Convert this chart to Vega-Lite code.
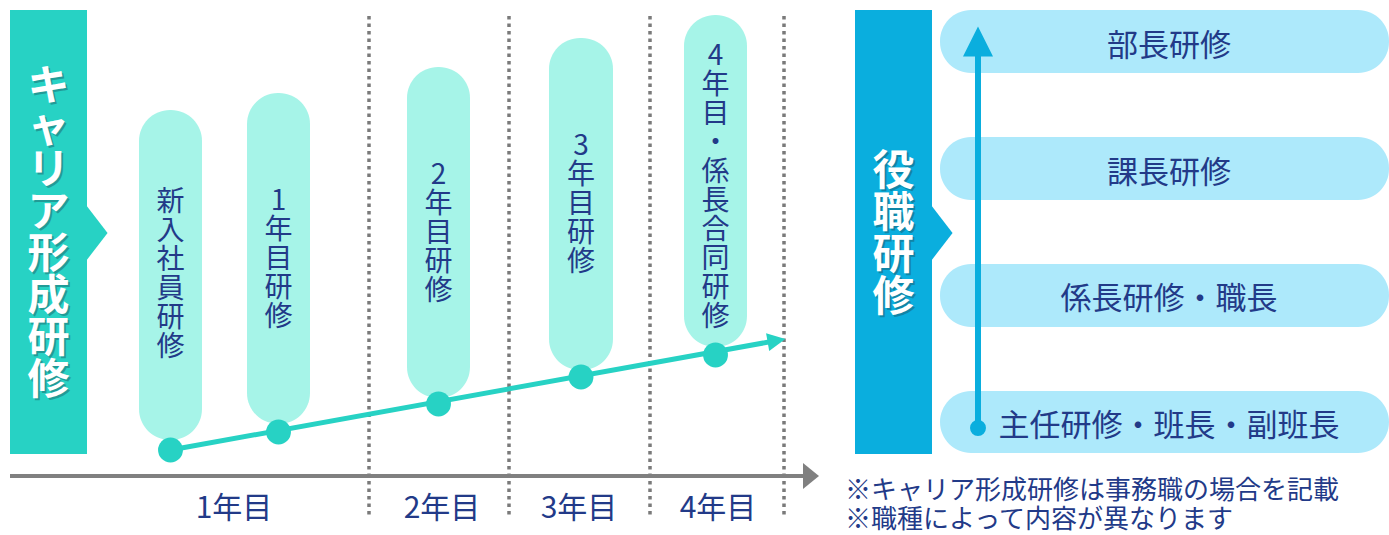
{
  "$schema": "https://vega.github.io/schema/vega-lite/v6.json",
  "width": 1389,
  "height": 535,
  "autosize": {"type": "fit", "contains": "padding"},
  "padding": 0,
  "background": "white",
  "config": {"view": {"stroke": null}, "font": "Noto Sans CJK JP"},
  "datasets": {
    "dotted": [{"x": 369, "y": 16, "y2": 515}, {"x": 509, "y": 16, "y2": 515}, {"x": 650, "y": 16, "y2": 515}, {"x": 784, "y": 16, "y2": 515}],
    "axisLine": [{"x": 10, "x2": 806, "y": 476}],
    "axisHead": [{"x": 811, "y": 476}],
    "pills": [
      {"x": 139, "x2": 202, "y": 110, "y2": 440, "cx": 170.5, "ty": 203, "dy": 450, "label": "新\n入\n社\n員\n研\n修"},
      {"x": 247, "x2": 310, "y": 93, "y2": 424, "cx": 278.5, "ty": 202, "dy": 432, "label": "1\n年\n目\n研\n修"},
      {"x": 407, "x2": 470, "y": 67, "y2": 398, "cx": 438.5, "ty": 176, "dy": 404, "label": "2\n年\n目\n研\n修"},
      {"x": 549, "x2": 613, "y": 38, "y2": 370, "cx": 581, "ty": 147, "dy": 377, "label": "3\n年\n目\n研\n修"},
      {"x": 684, "x2": 747, "y": 15, "y2": 347, "cx": 715.5, "ty": 57, "dy": 355, "label": "4\n年\n目\n・\n係\n長\n合\n同\n研\n修"}
    ],
    "tealLine": [{"x": 170.5, "y": 450}, {"x": 777, "y": 340.5}],
    "tealHead": [{"x": 776.5, "y": 340.6}],
    "banners": [
      {"x": 10, "x2": 87, "y": 10, "y2": 454, "c": "career"},
      {"x": 855, "x2": 932, "y": 10, "y2": 454, "c": "post"}
    ],
    "bannerTips": [{"x": 86, "y": 233, "c": "career"}, {"x": 931, "y": 233, "c": "post"}],
    "bannerText": [
      {"x": 48.5, "y": 87, "label": "キ\nャ\nリ\nア\n形\n成\n研\n修"},
      {"x": 893.5, "y": 172, "label": "役\n職\n研\n修"}
    ],
    "rightPills": [
      {"x": 940, "x2": 1389, "y": 10, "y2": 73, "ty": 47, "label": "部長研修"},
      {"x": 940, "x2": 1389, "y": 137, "y2": 200, "ty": 174, "label": "課長研修"},
      {"x": 940, "x2": 1389, "y": 264, "y2": 327, "ty": 300, "label": "係長研修・職長"},
      {"x": 940, "x2": 1389, "y": 391, "y2": 453, "ty": 427, "label": "主任研修・班長・副班長"}
    ],
    "blueLine": [{"x": 978, "y": 428, "y2": 50}],
    "blueHead": [{"x": 978, "y": 41.5}],
    "blueDot": [{"x": 978, "y": 428}],
    "years": [
      {"x": 234, "y": 509, "label": "1年目"},
      {"x": 442, "y": 509, "label": "2年目"},
      {"x": 579, "y": 509, "label": "3年目"},
      {"x": 718, "y": 509, "label": "4年目"}
    ],
    "notes": [
      {"x": 845, "y": 491, "label": "※キャリア形成研修は事務職の場合を記載"},
      {"x": 845, "y": 520, "label": "※職種によって内容が異なります"}
    ]
  },
  "layer": [
    {
      "data": {"name": "dotted"},
      "mark": {"type": "rule", "color": "#7a7a7a", "strokeWidth": 3.5, "strokeDash": [3.5, 4]},
      "encoding": {
        "x": {"field": "x", "type": "quantitative", "scale": {"domain": [0, 1389], "nice": false, "zero": false}, "axis": null},
        "y": {"field": "y", "type": "quantitative", "scale": {"domain": [0, 535], "reverse": true, "nice": false, "zero": false}, "axis": null},
        "y2": {"field": "y2"}
      }
    },
    {
      "data": {"name": "axisLine"},
      "mark": {"type": "rule", "color": "#808080", "strokeWidth": 4},
      "encoding": {
        "x": {"field": "x", "type": "quantitative", "scale": {"domain": [0, 1389], "nice": false, "zero": false}, "axis": null},
        "x2": {"field": "x2"},
        "y": {"field": "y", "type": "quantitative", "scale": {"domain": [0, 535], "reverse": true, "nice": false, "zero": false}, "axis": null}
      }
    },
    {
      "data": {"name": "axisHead"},
      "mark": {"type": "point", "filled": true, "opacity": 1, "color": "#808080", "shape": "M-0.615,-1L0.615,0L-0.615,1Z", "size": 676},
      "encoding": {
        "x": {"field": "x", "type": "quantitative", "scale": {"domain": [0, 1389], "nice": false, "zero": false}, "axis": null},
        "y": {"field": "y", "type": "quantitative", "scale": {"domain": [0, 535], "reverse": true, "nice": false, "zero": false}, "axis": null}
      }
    },
    {
      "data": {"name": "pills"},
      "mark": {"type": "rect", "color": "#A6F4E8", "cornerRadius": 31},
      "encoding": {
        "x": {"field": "x", "type": "quantitative", "scale": {"domain": [0, 1389], "nice": false, "zero": false}, "axis": null},
        "x2": {"field": "x2"},
        "y": {"field": "y", "type": "quantitative", "scale": {"domain": [0, 535], "reverse": true, "nice": false, "zero": false}, "axis": null},
        "y2": {"field": "y2"}
      }
    },
    {
      "data": {"name": "tealLine"},
      "mark": {"type": "line", "color": "#27D2C4", "strokeWidth": 5},
      "encoding": {
        "x": {"field": "x", "type": "quantitative", "scale": {"domain": [0, 1389], "nice": false, "zero": false}, "axis": null},
        "y": {"field": "y", "type": "quantitative", "scale": {"domain": [0, 535], "reverse": true, "nice": false, "zero": false}, "axis": null}
      }
    },
    {
      "data": {"name": "tealHead"},
      "mark": {"type": "point", "filled": true, "opacity": 1, "color": "#27D2C4", "shape": "M-1,-1L1,0L-1,1Z", "size": 324, "angle": -10},
      "encoding": {
        "x": {"field": "x", "type": "quantitative", "scale": {"domain": [0, 1389], "nice": false, "zero": false}, "axis": null},
        "y": {"field": "y", "type": "quantitative", "scale": {"domain": [0, 535], "reverse": true, "nice": false, "zero": false}, "axis": null}
      }
    },
    {
      "data": {"name": "pills"},
      "mark": {"type": "point", "filled": true, "opacity": 1, "color": "#27D2C4", "shape": "circle", "size": 620},
      "encoding": {
        "x": {"field": "cx", "type": "quantitative", "scale": {"domain": [0, 1389], "nice": false, "zero": false}, "axis": null},
        "y": {"field": "dy", "type": "quantitative", "scale": {"domain": [0, 535], "reverse": true, "nice": false, "zero": false}, "axis": null}
      }
    },
    {
      "data": {"name": "pills"},
      "mark": {"type": "text", "color": "#223A88", "fontSize": 28, "lineHeight": 29, "lineBreak": "\n", "align": "center", "baseline": "middle"},
      "encoding": {
        "x": {"field": "cx", "type": "quantitative", "scale": {"domain": [0, 1389], "nice": false, "zero": false}, "axis": null},
        "y": {"field": "ty", "type": "quantitative", "scale": {"domain": [0, 535], "reverse": true, "nice": false, "zero": false}, "axis": null},
        "text": {"field": "label"}
      }
    },
    {
      "data": {"name": "banners"},
      "mark": {"type": "rect"},
      "encoding": {
        "x": {"field": "x", "type": "quantitative", "scale": {"domain": [0, 1389], "nice": false, "zero": false}, "axis": null},
        "x2": {"field": "x2"},
        "y": {"field": "y", "type": "quantitative", "scale": {"domain": [0, 535], "reverse": true, "nice": false, "zero": false}, "axis": null},
        "y2": {"field": "y2"},
        "color": {"field": "c", "type": "nominal", "scale": {"domain": ["career", "post"], "range": ["#27D2C4", "#0AAEDE"]}, "legend": null}
      }
    },
    {
      "data": {"name": "bannerTips"},
      "mark": {"type": "point", "filled": true, "opacity": 1, "shape": "M0,-1L0.77,0L0,1Z", "size": 3136},
      "encoding": {
        "x": {"field": "x", "type": "quantitative", "scale": {"domain": [0, 1389], "nice": false, "zero": false}, "axis": null},
        "y": {"field": "y", "type": "quantitative", "scale": {"domain": [0, 535], "reverse": true, "nice": false, "zero": false}, "axis": null},
        "color": {"field": "c", "type": "nominal", "scale": {"domain": ["career", "post"], "range": ["#27D2C4", "#0AAEDE"]}, "legend": null}
      }
    },
    {
      "data": {"name": "bannerText"},
      "mark": {"type": "text", "color": "#1a4a55", "opacity": 0.4, "dx": 2, "dy": 2, "fontSize": 42, "fontWeight": "bold", "lineHeight": 42, "lineBreak": "\n", "align": "center", "baseline": "middle"},
      "encoding": {
        "x": {"field": "x", "type": "quantitative", "scale": {"domain": [0, 1389], "nice": false, "zero": false}, "axis": null},
        "y": {"field": "y", "type": "quantitative", "scale": {"domain": [0, 535], "reverse": true, "nice": false, "zero": false}, "axis": null},
        "text": {"field": "label"}
      }
    },
    {
      "data": {"name": "bannerText"},
      "mark": {"type": "text", "color": "#FFFFFF", "fontSize": 42, "fontWeight": "bold", "lineHeight": 42, "lineBreak": "\n", "align": "center", "baseline": "middle"},
      "encoding": {
        "x": {"field": "x", "type": "quantitative", "scale": {"domain": [0, 1389], "nice": false, "zero": false}, "axis": null},
        "y": {"field": "y", "type": "quantitative", "scale": {"domain": [0, 535], "reverse": true, "nice": false, "zero": false}, "axis": null},
        "text": {"field": "label"}
      }
    },
    {
      "data": {"name": "rightPills"},
      "mark": {"type": "rect", "color": "#ADE9FB", "cornerRadius": 31},
      "encoding": {
        "x": {"field": "x", "type": "quantitative", "scale": {"domain": [0, 1389], "nice": false, "zero": false}, "axis": null},
        "x2": {"field": "x2"},
        "y": {"field": "y", "type": "quantitative", "scale": {"domain": [0, 535], "reverse": true, "nice": false, "zero": false}, "axis": null},
        "y2": {"field": "y2"}
      }
    },
    {
      "data": {"name": "blueLine"},
      "mark": {"type": "rule", "color": "#0AAEDE", "strokeWidth": 6},
      "encoding": {
        "x": {"field": "x", "type": "quantitative", "scale": {"domain": [0, 1389], "nice": false, "zero": false}, "axis": null},
        "y": {"field": "y", "type": "quantitative", "scale": {"domain": [0, 535], "reverse": true, "nice": false, "zero": false}, "axis": null},
        "y2": {"field": "y2"}
      }
    },
    {
      "data": {"name": "blueHead"},
      "mark": {"type": "point", "filled": true, "opacity": 1, "color": "#0AAEDE", "shape": "M0,-1L1,1L-1,1Z", "size": 900},
      "encoding": {
        "x": {"field": "x", "type": "quantitative", "scale": {"domain": [0, 1389], "nice": false, "zero": false}, "axis": null},
        "y": {"field": "y", "type": "quantitative", "scale": {"domain": [0, 535], "reverse": true, "nice": false, "zero": false}, "axis": null}
      }
    },
    {
      "data": {"name": "blueDot"},
      "mark": {"type": "point", "filled": true, "opacity": 1, "color": "#0AAEDE", "shape": "circle", "size": 254},
      "encoding": {
        "x": {"field": "x", "type": "quantitative", "scale": {"domain": [0, 1389], "nice": false, "zero": false}, "axis": null},
        "y": {"field": "y", "type": "quantitative", "scale": {"domain": [0, 535], "reverse": true, "nice": false, "zero": false}, "axis": null}
      }
    },
    {
      "data": {"name": "rightPills"},
      "mark": {"type": "text", "color": "#223A88", "fontSize": 31, "align": "center", "baseline": "middle"},
      "encoding": {
        "x": {"datum": 1169, "type": "quantitative", "scale": {"domain": [0, 1389], "nice": false, "zero": false}, "axis": null},
        "y": {"field": "ty", "type": "quantitative", "scale": {"domain": [0, 535], "reverse": true, "nice": false, "zero": false}, "axis": null},
        "text": {"field": "label"}
      }
    },
    {
      "data": {"name": "years"},
      "mark": {"type": "text", "color": "#223A88", "fontSize": 30, "align": "center", "baseline": "middle"},
      "encoding": {
        "x": {"field": "x", "type": "quantitative", "scale": {"domain": [0, 1389], "nice": false, "zero": false}, "axis": null},
        "y": {"field": "y", "type": "quantitative", "scale": {"domain": [0, 535], "reverse": true, "nice": false, "zero": false}, "axis": null},
        "text": {"field": "label"}
      }
    },
    {
      "data": {"name": "notes"},
      "mark": {"type": "text", "color": "#223A88", "fontSize": 26, "align": "left", "baseline": "middle"},
      "encoding": {
        "x": {"field": "x", "type": "quantitative", "scale": {"domain": [0, 1389], "nice": false, "zero": false}, "axis": null},
        "y": {"field": "y", "type": "quantitative", "scale": {"domain": [0, 535], "reverse": true, "nice": false, "zero": false}, "axis": null},
        "text": {"field": "label"}
      }
    }
  ]
}
